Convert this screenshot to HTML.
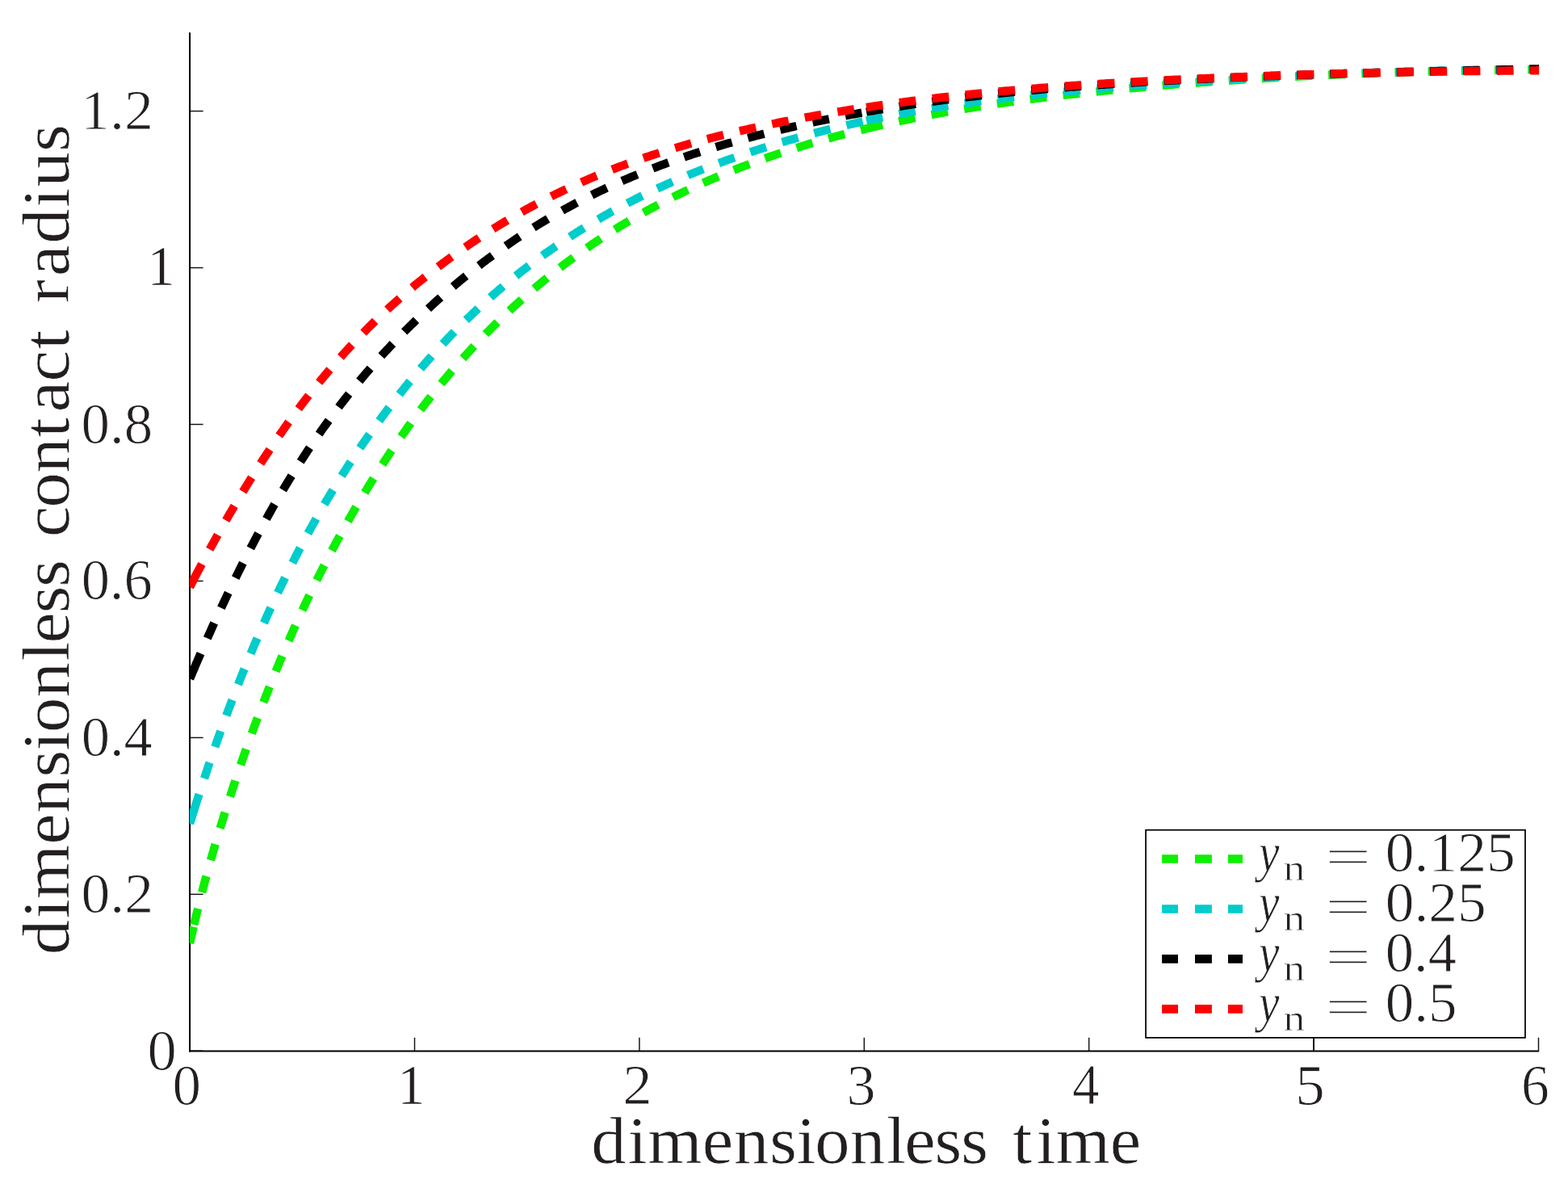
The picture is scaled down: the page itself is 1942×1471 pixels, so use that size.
<!DOCTYPE html>
<html lang="en"><head><meta charset="utf-8"><title>dimensionless contact radius vs dimensionless time</title>
<style>
html,body{margin:0;padding:0;background:#fff;}
body{width:1942px;height:1471px;overflow:hidden;}
svg{display:block;font-family:'Liberation Serif', serif;}
text{fill:#231f20;}
</style></head><body>
<svg width="1942" height="1471" viewBox="0 0 1942 1471">
<rect width="1942" height="1471" fill="#fff"/>
<defs><clipPath id="ax"><rect x="234.85" y="40.6" width="1671.20" height="1260.70"/></clipPath></defs>
<g stroke="#111" stroke-width="1.45" fill="none">
<line x1="235.10" y1="1301.3" x2="235.10" y2="1284.8"/>
<line x1="513.50" y1="1301.3" x2="513.50" y2="1284.8"/>
<line x1="791.90" y1="1301.3" x2="791.90" y2="1284.8"/>
<line x1="1070.30" y1="1301.3" x2="1070.30" y2="1284.8"/>
<line x1="1348.70" y1="1301.3" x2="1348.70" y2="1284.8"/>
<line x1="1627.10" y1="1301.3" x2="1627.10" y2="1284.8"/>
<line x1="1905.50" y1="1301.3" x2="1905.50" y2="1284.8"/>
<line x1="235.1" y1="1301.30" x2="251.6" y2="1301.30"/>
<line x1="235.1" y1="1107.35" x2="251.6" y2="1107.35"/>
<line x1="235.1" y1="913.39" x2="251.6" y2="913.39"/>
<line x1="235.1" y1="719.44" x2="251.6" y2="719.44"/>
<line x1="235.1" y1="525.48" x2="251.6" y2="525.48"/>
<line x1="235.1" y1="331.53" x2="251.6" y2="331.53"/>
<line x1="235.1" y1="137.58" x2="251.6" y2="137.58"/>
</g>
<g stroke="#000" fill="none"><line x1="235.05" y1="40.3" x2="235.05" y2="1302.4" stroke-width="2.05"/><line x1="234.05" y1="1301.45" x2="1906.1" y2="1301.45" stroke-width="1.9"/></g>
<g clip-path="url(#ax)" fill="none" stroke-width="10.4" stroke-linejoin="round">
<path d="M235.10 1167.91 L235.88 1164.41 L236.66 1160.94 L237.44 1157.49 L238.21 1154.08 L238.99 1150.69 L239.77 1147.33 L240.55 1144.00" stroke="#0df000" stroke-dasharray="20.73 20.52"/>
<path d="M240.30 1145.07 L242.81 1134.48 L245.32 1124.17 L247.83 1114.11 L250.33 1104.29 L252.84 1094.69 L255.35 1085.31 L257.86 1076.13 L260.37 1067.15 L262.88 1058.33 L265.39 1049.68 L267.90 1041.17 L270.40 1032.80 L272.91 1024.56 L275.42 1016.42 L277.93 1008.38 L280.44 1000.43 L282.95 992.57 L285.46 984.81 L287.97 977.13 L290.47 969.54 L292.98 962.03 L295.49 954.61 L298.00 947.27 L300.51 940.00 L303.02 932.82 L305.53 925.72 L308.04 918.69 L310.54 911.74 L313.05 904.85 L315.56 898.04 L318.07 891.30 L320.58 884.63 L323.09 878.02 L325.60 871.48 L328.11 865.00 L330.61 858.58 L333.12 852.23 L335.63 845.93 L338.14 839.69 L340.65 833.51 L343.16 827.39 L345.67 821.32 L348.18 815.32 L350.68 809.37 L353.19 803.47 L355.70 797.63 L358.21 791.85 L360.72 786.12 L363.23 780.44 L365.74 774.81 L368.25 769.24 L370.75 763.72 L373.26 758.25 L375.77 752.83 L378.28 747.46 L380.79 742.14 L383.30 736.87 L385.81 731.65 L388.32 726.48 L390.82 721.35 L393.33 716.27 L395.84 711.24 L398.35 706.25 L400.86 701.31 L403.37 696.41 L405.88 691.56 L408.39 686.75 L410.89 681.98 L413.40 677.25 L415.91 672.57 L418.42 667.92 L420.93 663.32 L423.44 658.76 L425.95 654.24 L428.46 649.75 L430.96 645.31 L433.47 640.90 L435.98 636.53 L438.49 632.19 L441.00 627.89 L443.51 623.63 L446.02 619.40 L448.53 615.21 L451.03 611.05 L453.54 606.92 L456.05 602.83 L458.56 598.76 L461.07 594.73 L463.58 590.73 L466.09 586.77 L468.59 582.83 L471.10 578.92 L473.61 575.05 L476.12 571.20 L478.63 567.39 L481.14 563.61 L483.65 559.85 L486.16 556.13 L488.66 552.43 L491.17 548.77 L493.68 545.13 L496.19 541.53 L498.70 537.95 L501.21 534.40 L503.72 530.88 L506.23 527.38 L508.73 523.92 L511.24 520.48 L513.75 517.07 L516.26 513.69 L518.77 510.33 L521.28 507.00 L523.79 503.70 L526.30 500.42 L528.80 497.17 L531.31 493.95 L533.82 490.75 L536.33 487.58 L538.84 484.43 L541.35 481.31 L543.86 478.21 L546.37 475.14 L548.87 472.10 L551.38 469.07 L553.89 466.08 L556.40 463.10 L558.91 460.15 L561.42 457.23 L563.93 454.32 L566.44 451.44 L568.94 448.59 L571.45 445.75 L573.96 442.94 L576.47 440.15 L578.98 437.38 L581.49 434.64 L584.00 431.92 L586.51 429.22 L589.01 426.54 L591.52 423.88 L594.03 421.24 L596.54 418.62 L599.05 416.03 L601.56 413.45 L604.07 410.89 L606.58 408.36 L609.08 405.84 L611.59 403.35 L614.10 400.87 L616.61 398.41 L619.12 395.97 L621.63 393.55 L624.14 391.15 L626.65 388.77 L629.15 386.40 L631.66 384.06 L634.17 381.73 L636.68 379.42 L639.19 377.12 L641.70 374.85 L644.21 372.59 L646.72 370.34 L649.22 368.12 L651.73 365.91 L654.24 363.71 L656.75 361.54 L659.26 359.38 L661.77 357.23 L664.28 355.11 L666.78 353.00 L669.29 350.90 L671.80 348.82 L674.31 346.76 L676.82 344.71 L679.33 342.68 L681.84 340.67 L684.35 338.67 L686.85 336.68 L689.36 334.71 L691.87 332.76 L694.38 330.82 L696.89 328.90 L699.40 326.99 L701.91 325.09 L704.42 323.21 L706.92 321.35 L709.43 319.50 L711.94 317.66 L714.45 315.84 L716.96 314.04 L719.47 312.24 L721.98 310.46 L724.49 308.70 L726.99 306.95 L729.50 305.21 L732.01 303.49 L734.52 301.78 L737.03 300.08 L739.54 298.40 L742.05 296.73 L744.56 295.07 L747.06 293.43 L749.57 291.80 L752.08 290.18 L754.59 288.58 L757.10 286.98 L759.61 285.41 L762.12 283.84 L764.63 282.28 L767.13 280.74 L769.64 279.21 L772.15 277.70 L774.66 276.19 L777.17 274.70 L779.68 273.21 L782.19 271.74 L784.70 270.29 L787.20 268.84 L789.71 267.40 L792.22 265.98 L794.73 264.57 L797.24 263.17 L799.75 261.78 L802.26 260.40 L804.77 259.03 L807.27 257.67 L809.78 256.32 L812.29 254.99 L814.80 253.66 L817.31 252.34 L819.82 251.04 L822.33 249.74 L824.84 248.46 L827.34 247.18 L829.85 245.92 L832.36 244.66 L834.87 243.42 L837.38 242.18 L839.89 240.96 L842.40 239.74 L844.91 238.53 L847.41 237.33 L849.92 236.14 L852.43 234.96 L854.94 233.79 L857.45 232.63 L859.96 231.48 L862.47 230.33 L864.98 229.19 L867.48 228.07 L869.99 226.95 L872.50 225.84 L875.01 224.73 L877.52 223.64 L880.03 222.55 L882.54 221.47 L885.04 220.40 L887.55 219.34 L890.06 218.28 L892.57 217.23 L895.08 216.19 L897.59 215.16 L900.10 214.13 L902.61 213.12 L905.11 212.11 L907.62 211.10 L910.13 210.11 L912.64 209.12 L915.15 208.14 L917.66 207.17 L920.17 206.20 L922.68 205.24 L925.18 204.29 L927.69 203.34 L930.20 202.41 L932.71 201.48 L935.22 200.55 L937.73 199.64 L940.24 198.73 L942.75 197.82 L945.25 196.93 L947.76 196.04 L950.27 195.15 L952.78 194.28 L955.29 193.41 L957.80 192.55 L960.31 191.69 L962.82 190.84 L965.32 190.00 L967.83 189.16 L970.34 188.33 L972.85 187.50 L975.36 186.69 L977.87 185.88 L980.38 185.07 L982.89 184.27 L985.39 183.48 L987.90 182.69 L990.41 181.91 L992.92 181.13 L995.43 180.37 L997.94 179.60 L1000.45 178.84 L1002.96 178.09 L1005.46 177.35 L1007.97 176.61 L1010.48 175.87 L1012.99 175.14 L1015.50 174.42 L1018.01 173.70 L1020.52 172.99 L1023.03 172.28 L1025.53 171.58 L1028.04 170.89 L1030.55 170.20 L1033.06 169.51 L1035.57 168.83 L1038.08 168.16 L1040.59 167.49 L1043.10 166.82 L1045.60 166.16 L1048.11 165.51 L1050.62 164.86 L1053.13 164.22 L1055.64 163.58 L1058.15 162.94 L1060.66 162.31 L1063.17 161.69 L1065.67 161.07 L1068.18 160.45 L1070.69 159.84 L1073.20 159.23" stroke="#0df000" stroke-dasharray="20.73 20.52"/>
<path d="M1073.00 159.28 L1075.51 158.68 L1078.02 158.08 L1080.53 157.49 L1083.04 156.90 L1085.55 156.32 L1088.06 155.74 L1090.57 155.16 L1093.07 154.59 L1095.58 154.02 L1098.09 153.46 L1100.60 152.90 L1103.11 152.35 L1105.62 151.80 L1108.13 151.25 L1110.64 150.71 L1113.15 150.17 L1115.66 149.64 L1118.17 149.11 L1120.68 148.58 L1123.19 148.06 L1125.70 147.54 L1128.20 147.03 L1130.71 146.52 L1133.22 146.02 L1135.73 145.51 L1138.24 145.02 L1140.75 144.52 L1143.26 144.03 L1145.77 143.55 L1148.28 143.06 L1150.79 142.58 L1153.30 142.11 L1155.81 141.64 L1158.32 141.17 L1160.83 140.71 L1163.34 140.25 L1165.84 139.79 L1168.35 139.34 L1170.86 138.89 L1173.37 138.44 L1175.88 138.00 L1178.39 137.56 L1180.90 137.12 L1183.41 136.69 L1185.92 136.26 L1188.43 135.83 L1190.94 135.41 L1193.45 134.99 L1195.96 134.58 L1198.47 134.16 L1200.97 133.75 L1203.48 133.35 L1205.99 132.94 L1208.50 132.54 L1211.01 132.15 L1213.52 131.75 L1216.03 131.36 L1218.54 130.97 L1221.05 130.59 L1223.56 130.21 L1226.07 129.83 L1228.58 129.45 L1231.09 129.08 L1233.60 128.71 L1236.11 128.34 L1238.61 127.98 L1241.12 127.62 L1243.63 127.26 L1246.14 126.90 L1248.65 126.55 L1251.16 126.20 L1253.67 125.85 L1256.18 125.51 L1258.69 125.17 L1261.20 124.83 L1263.71 124.49 L1266.22 124.15 L1268.73 123.82 L1271.24 123.49 L1273.74 123.17 L1276.25 122.84 L1278.76 122.52 L1281.27 122.20 L1283.78 121.88 L1286.29 121.57 L1288.80 121.25 L1291.31 120.94 L1293.82 120.64 L1296.33 120.33 L1298.84 120.03 L1301.35 119.72 L1303.86 119.43 L1306.37 119.13 L1308.88 118.83 L1311.38 118.54 L1313.89 118.25 L1316.40 117.96 L1318.91 117.67 L1321.42 117.39 L1323.93 117.11 L1326.44 116.83 L1328.95 116.55 L1331.46 116.27 L1333.97 116.00 L1336.48 115.72 L1338.99 115.45 L1341.50 115.18 L1344.01 114.91 L1346.51 114.65 L1349.02 114.38 L1351.53 114.12 L1354.04 113.86 L1356.55 113.60 L1359.06 113.34 L1361.57 113.09 L1364.08 112.83 L1366.59 112.58 L1369.10 112.33 L1371.61 112.08 L1374.12 111.83 L1376.63 111.58 L1379.14 111.34 L1381.65 111.09 L1384.15 110.85 L1386.66 110.61 L1389.17 110.37 L1391.68 110.13 L1394.19 109.89 L1396.70 109.66 L1399.21 109.42 L1401.72 109.19 L1404.23 108.96 L1406.74 108.73 L1409.25 108.50 L1411.76 108.27 L1414.27 108.05 L1416.78 107.82 L1419.28 107.60 L1421.79 107.38 L1424.30 107.16 L1426.81 106.94 L1429.32 106.73 L1431.83 106.51 L1434.34 106.30 L1436.85 106.08 L1439.36 105.87 L1441.87 105.66 L1444.38 105.45 L1446.89 105.24 L1449.40 105.04 L1451.91 104.83 L1454.42 104.63 L1456.92 104.43 L1459.43 104.23 L1461.94 104.03 L1464.45 103.83 L1466.96 103.63 L1469.47 103.44 L1471.98 103.24 L1474.49 103.05 L1477.00 102.86 L1479.51 102.67 L1482.02 102.48 L1484.53 102.29 L1487.04 102.11 L1489.55 101.92 L1492.05 101.74 L1494.56 101.55 L1497.07 101.37 L1499.58 101.19 L1502.09 101.02 L1504.60 100.84 L1507.11 100.66 L1509.62 100.49 L1512.13 100.31 L1514.64 100.14 L1517.15 99.97 L1519.66 99.80 L1522.17 99.63 L1524.68 99.46 L1527.18 99.30 L1529.69 99.13 L1532.20 98.97 L1534.71 98.81 L1537.22 98.65 L1539.73 98.49 L1542.24 98.33 L1544.75 98.17 L1547.26 98.01 L1549.77 97.86 L1552.28 97.70 L1554.79 97.55 L1557.30 97.40 L1559.81 97.25 L1562.32 97.10 L1564.82 96.95 L1567.33 96.80 L1569.84 96.66 L1572.35 96.51 L1574.86 96.37 L1577.37 96.23 L1579.88 96.09 L1582.39 95.95 L1584.90 95.81 L1587.41 95.67 L1589.92 95.53 L1592.43 95.40 L1594.94 95.26 L1597.45 95.13 L1599.95 95.00 L1602.46 94.86 L1604.97 94.73 L1607.48 94.61 L1609.99 94.48 L1612.50 94.35 L1615.01 94.23 L1617.52 94.10 L1620.03 93.98 L1622.54 93.85 L1625.05 93.73 L1627.56 93.61 L1630.07 93.49 L1632.58 93.38 L1635.09 93.26 L1637.59 93.14 L1640.10 93.03 L1642.61 92.91 L1645.12 92.80 L1647.63 92.69 L1650.14 92.58 L1652.65 92.47 L1655.16 92.36 L1657.67 92.25 L1660.18 92.14 L1662.69 92.04 L1665.20 91.93 L1667.71 91.83 L1670.22 91.73 L1672.72 91.63 L1675.23 91.52 L1677.74 91.42 L1680.25 91.33 L1682.76 91.23 L1685.27 91.13 L1687.78 91.03 L1690.29 90.94 L1692.80 90.85 L1695.31 90.75 L1697.82 90.66 L1700.33 90.57 L1702.84 90.48 L1705.35 90.39 L1707.86 90.30 L1710.36 90.21 L1712.87 90.13 L1715.38 90.04 L1717.89 89.96 L1720.40 89.87 L1722.91 89.79 L1725.42 89.71 L1727.93 89.63 L1730.44 89.55 L1732.95 89.47 L1735.46 89.39 L1737.97 89.31 L1740.48 89.24 L1742.99 89.16 L1745.49 89.09 L1748.00 89.01 L1750.51 88.94 L1753.02 88.87 L1755.53 88.79 L1758.04 88.72 L1760.55 88.65 L1763.06 88.59 L1765.57 88.52 L1768.08 88.45 L1770.59 88.38 L1773.10 88.32 L1775.61 88.25 L1778.12 88.19 L1780.63 88.13 L1783.13 88.07 L1785.64 88.00 L1788.15 87.94 L1790.66 87.88 L1793.17 87.82 L1795.68 87.77 L1798.19 87.71 L1800.70 87.65 L1803.21 87.60 L1805.72 87.54 L1808.23 87.49 L1810.74 87.43 L1813.25 87.38 L1815.76 87.33 L1818.26 87.28 L1820.77 87.23 L1823.28 87.18 L1825.79 87.13 L1828.30 87.08 L1830.81 87.03 L1833.32 86.99 L1835.83 86.94 L1838.34 86.89 L1840.85 86.85 L1843.36 86.81 L1845.87 86.76 L1848.38 86.72 L1850.89 86.68 L1853.40 86.64 L1855.90 86.60 L1858.41 86.56 L1860.92 86.52 L1863.43 86.48 L1865.94 86.44 L1868.45 86.41 L1870.96 86.37 L1873.47 86.33 L1875.98 86.30 L1878.49 86.26 L1881.00 86.23 L1883.51 86.20 L1886.02 86.17 L1888.53 86.13 L1891.03 86.10 L1893.54 86.07 L1896.05 86.04 L1898.56 86.01 L1901.07 85.98 L1903.58 85.96 L1906.09 85.93 L1908.60 85.90" stroke="#0df000" stroke-dasharray="20.7 20.5"/>
<path d="M235.10 1019.80 L235.88 1017.29 L236.66 1014.78 L237.44 1012.28 L238.21 1009.78 L238.99 1007.29 L239.77 1004.82 L240.55 1002.35" stroke="#00cccc" stroke-dasharray="20.73 20.52"/>
<path d="M240.30 1003.14 L242.81 995.22 L245.32 987.38 L247.83 979.63 L250.33 971.95 L252.84 964.35 L255.35 956.82 L257.86 949.37 L260.37 942.00 L262.88 934.70 L265.39 927.47 L267.90 920.32 L270.40 913.24 L272.91 906.23 L275.42 899.29 L277.93 892.42 L280.44 885.62 L282.95 878.89 L285.46 872.23 L287.97 865.63 L290.47 859.10 L292.98 852.64 L295.49 846.24 L298.00 839.90 L300.51 833.63 L303.02 827.41 L305.53 821.26 L308.04 815.17 L310.54 809.14 L313.05 803.17 L315.56 797.26 L318.07 791.41 L320.58 785.61 L323.09 779.87 L325.60 774.18 L328.11 768.55 L330.61 762.97 L333.12 757.44 L335.63 751.97 L338.14 746.55 L340.65 741.18 L343.16 735.86 L345.67 730.59 L348.18 725.36 L350.68 720.19 L353.19 715.06 L355.70 709.98 L358.21 704.94 L360.72 699.95 L363.23 695.01 L365.74 690.11 L368.25 685.25 L370.75 680.44 L373.26 675.67 L375.77 670.95 L378.28 666.27 L380.79 661.63 L383.30 657.03 L385.81 652.47 L388.32 647.96 L390.82 643.48 L393.33 639.05 L395.84 634.66 L398.35 630.30 L400.86 625.98 L403.37 621.70 L405.88 617.46 L408.39 613.26 L410.89 609.09 L413.40 604.96 L415.91 600.87 L418.42 596.81 L420.93 592.79 L423.44 588.80 L425.95 584.85 L428.46 580.93 L430.96 577.04 L433.47 573.19 L435.98 569.37 L438.49 565.58 L441.00 561.82 L443.51 558.10 L446.02 554.40 L448.53 550.74 L451.03 547.10 L453.54 543.50 L456.05 539.92 L458.56 536.37 L461.07 532.86 L463.58 529.36 L466.09 525.90 L468.59 522.46 L471.10 519.05 L473.61 515.67 L476.12 512.31 L478.63 508.97 L481.14 505.66 L483.65 502.38 L486.16 499.12 L488.66 495.88 L491.17 492.67 L493.68 489.49 L496.19 486.32 L498.70 483.18 L501.21 480.07 L503.72 476.98 L506.23 473.91 L508.73 470.87 L511.24 467.85 L513.75 464.85 L516.26 461.88 L518.77 458.93 L521.28 456.00 L523.79 453.09 L526.30 450.21 L528.80 447.35 L531.31 444.51 L533.82 441.69 L536.33 438.90 L538.84 436.12 L541.35 433.37 L543.86 430.64 L546.37 427.93 L548.87 425.24 L551.38 422.58 L553.89 419.93 L556.40 417.31 L558.91 414.70 L561.42 412.12 L563.93 409.56 L566.44 407.01 L568.94 404.49 L571.45 401.99 L573.96 399.50 L576.47 397.04 L578.98 394.59 L581.49 392.17 L584.00 389.76 L586.51 387.38 L589.01 385.01 L591.52 382.66 L594.03 380.33 L596.54 378.02 L599.05 375.73 L601.56 373.45 L604.07 371.19 L606.58 368.95 L609.08 366.73 L611.59 364.53 L614.10 362.34 L616.61 360.18 L619.12 358.02 L621.63 355.89 L624.14 353.77 L626.65 351.67 L629.15 349.59 L631.66 347.52 L634.17 345.47 L636.68 343.44 L639.19 341.42 L641.70 339.41 L644.21 337.43 L646.72 335.46 L649.22 333.50 L651.73 331.56 L654.24 329.64 L656.75 327.73 L659.26 325.83 L661.77 323.95 L664.28 322.09 L666.78 320.24 L669.29 318.40 L671.80 316.58 L674.31 314.77 L676.82 312.98 L679.33 311.20 L681.84 309.43 L684.35 307.68 L686.85 305.94 L689.36 304.22 L691.87 302.51 L694.38 300.81 L696.89 299.12 L699.40 297.45 L701.91 295.79 L704.42 294.14 L706.92 292.51 L709.43 290.89 L711.94 289.28 L714.45 287.68 L716.96 286.10 L719.47 284.53 L721.98 282.97 L724.49 281.43 L726.99 279.89 L729.50 278.37 L732.01 276.86 L734.52 275.36 L737.03 273.88 L739.54 272.40 L742.05 270.94 L744.56 269.49 L747.06 268.05 L749.57 266.62 L752.08 265.20 L754.59 263.80 L757.10 262.40 L759.61 261.02 L762.12 259.65 L764.63 258.29 L767.13 256.93 L769.64 255.59 L772.15 254.26 L774.66 252.95 L777.17 251.64 L779.68 250.34 L782.19 249.05 L784.70 247.77 L787.20 246.50 L789.71 245.25 L792.22 244.00 L794.73 242.76 L797.24 241.53 L799.75 240.31 L802.26 239.10 L804.77 237.90 L807.27 236.71 L809.78 235.53 L812.29 234.36 L814.80 233.20 L817.31 232.04 L819.82 230.90 L822.33 229.76 L824.84 228.63 L827.34 227.52 L829.85 226.41 L832.36 225.30 L834.87 224.21 L837.38 223.13 L839.89 222.05 L842.40 220.98 L844.91 219.92 L847.41 218.87 L849.92 217.83 L852.43 216.79 L854.94 215.76 L857.45 214.74 L859.96 213.73 L862.47 212.72 L864.98 211.72 L867.48 210.73 L869.99 209.75 L872.50 208.77 L875.01 207.80 L877.52 206.84 L880.03 205.88 L882.54 204.93 L885.04 203.99 L887.55 203.06 L890.06 202.13 L892.57 201.20 L895.08 200.29 L897.59 199.38 L900.10 198.47 L902.61 197.58 L905.11 196.68 L907.62 195.80 L910.13 194.92 L912.64 194.05 L915.15 193.18 L917.66 192.32 L920.17 191.46 L922.68 190.61 L925.18 189.77 L927.69 188.93 L930.20 188.10 L932.71 187.27 L935.22 186.45 L937.73 185.63 L940.24 184.83 L942.75 184.02 L945.25 183.22 L947.76 182.43 L950.27 181.65 L952.78 180.87 L955.29 180.09 L957.80 179.32 L960.31 178.56 L962.82 177.80 L965.32 177.05 L967.83 176.30 L970.34 175.56 L972.85 174.82 L975.36 174.09 L977.87 173.36 L980.38 172.64 L982.89 171.93 L985.39 171.22 L987.90 170.51 L990.41 169.81 L992.92 169.12 L995.43 168.43 L997.94 167.74 L1000.45 167.07 L1002.96 166.39 L1005.46 165.72 L1007.97 165.06 L1010.48 164.40 L1012.99 163.75 L1015.50 163.10 L1018.01 162.45 L1020.52 161.82 L1023.03 161.18 L1025.53 160.55 L1028.04 159.93 L1030.55 159.31 L1033.06 158.69 L1035.57 158.08 L1038.08 157.48 L1040.59 156.88 L1043.10 156.28 L1045.60 155.69 L1048.11 155.10 L1050.62 154.52 L1053.13 153.95 L1055.64 153.37 L1058.15 152.80 L1060.66 152.24 L1063.17 151.68 L1065.67 151.13 L1068.18 150.58 L1070.69 150.03 L1073.20 149.49" stroke="#00cccc" stroke-dasharray="20.73 20.52"/>
<path d="M1073.00 149.53 L1075.51 148.99 L1078.02 148.46 L1080.53 147.93 L1083.04 147.41 L1085.55 146.89 L1088.06 146.37 L1090.57 145.86 L1093.07 145.35 L1095.58 144.85 L1098.09 144.35 L1100.60 143.85 L1103.11 143.36 L1105.62 142.87 L1108.13 142.39 L1110.64 141.91 L1113.15 141.43 L1115.66 140.96 L1118.17 140.49 L1120.68 140.03 L1123.19 139.57 L1125.70 139.12 L1128.20 138.66 L1130.71 138.21 L1133.22 137.77 L1135.73 137.33 L1138.24 136.89 L1140.75 136.46 L1143.26 136.03 L1145.77 135.60 L1148.28 135.18 L1150.79 134.76 L1153.30 134.34 L1155.81 133.93 L1158.32 133.52 L1160.83 133.12 L1163.34 132.72 L1165.84 132.32 L1168.35 131.93 L1170.86 131.53 L1173.37 131.15 L1175.88 130.76 L1178.39 130.38 L1180.90 130.00 L1183.41 129.63 L1185.92 129.26 L1188.43 128.89 L1190.94 128.52 L1193.45 128.16 L1195.96 127.80 L1198.47 127.44 L1200.97 127.09 L1203.48 126.74 L1205.99 126.39 L1208.50 126.05 L1211.01 125.71 L1213.52 125.37 L1216.03 125.04 L1218.54 124.70 L1221.05 124.38 L1223.56 124.05 L1226.07 123.73 L1228.58 123.40 L1231.09 123.09 L1233.60 122.77 L1236.11 122.46 L1238.61 122.15 L1241.12 121.84 L1243.63 121.54 L1246.14 121.23 L1248.65 120.93 L1251.16 120.64 L1253.67 120.34 L1256.18 120.05 L1258.69 119.76 L1261.20 119.47 L1263.71 119.19 L1266.22 118.91 L1268.73 118.63 L1271.24 118.35 L1273.74 118.07 L1276.25 117.80 L1278.76 117.53 L1281.27 117.26 L1283.78 117.00 L1286.29 116.73 L1288.80 116.47 L1291.31 116.21 L1293.82 115.95 L1296.33 115.70 L1298.84 115.44 L1301.35 115.19 L1303.86 114.94 L1306.37 114.70 L1308.88 114.45 L1311.38 114.21 L1313.89 113.96 L1316.40 113.72 L1318.91 113.49 L1321.42 113.25 L1323.93 113.02 L1326.44 112.78 L1328.95 112.55 L1331.46 112.32 L1333.97 112.10 L1336.48 111.87 L1338.99 111.65 L1341.50 111.42 L1344.01 111.20 L1346.51 110.98 L1349.02 110.77 L1351.53 110.55 L1354.04 110.33 L1356.55 110.12 L1359.06 109.91 L1361.57 109.70 L1364.08 109.49 L1366.59 109.28 L1369.10 109.08 L1371.61 108.87 L1374.12 108.67 L1376.63 108.46 L1379.14 108.26 L1381.65 108.06 L1384.15 107.86 L1386.66 107.67 L1389.17 107.47 L1391.68 107.27 L1394.19 107.08 L1396.70 106.89 L1399.21 106.69 L1401.72 106.50 L1404.23 106.31 L1406.74 106.12 L1409.25 105.93 L1411.76 105.75 L1414.27 105.56 L1416.78 105.37 L1419.28 105.19 L1421.79 105.00 L1424.30 104.82 L1426.81 104.64 L1429.32 104.46 L1431.83 104.28 L1434.34 104.10 L1436.85 103.92 L1439.36 103.74 L1441.87 103.56 L1444.38 103.39 L1446.89 103.21 L1449.40 103.04 L1451.91 102.86 L1454.42 102.69 L1456.92 102.52 L1459.43 102.35 L1461.94 102.18 L1464.45 102.01 L1466.96 101.84 L1469.47 101.67 L1471.98 101.51 L1474.49 101.34 L1477.00 101.18 L1479.51 101.01 L1482.02 100.85 L1484.53 100.69 L1487.04 100.53 L1489.55 100.37 L1492.05 100.21 L1494.56 100.05 L1497.07 99.89 L1499.58 99.73 L1502.09 99.58 L1504.60 99.42 L1507.11 99.27 L1509.62 99.12 L1512.13 98.96 L1514.64 98.81 L1517.15 98.66 L1519.66 98.51 L1522.17 98.36 L1524.68 98.22 L1527.18 98.07 L1529.69 97.92 L1532.20 97.78 L1534.71 97.63 L1537.22 97.49 L1539.73 97.35 L1542.24 97.21 L1544.75 97.06 L1547.26 96.92 L1549.77 96.79 L1552.28 96.65 L1554.79 96.51 L1557.30 96.37 L1559.81 96.24 L1562.32 96.10 L1564.82 95.97 L1567.33 95.84 L1569.84 95.70 L1572.35 95.57 L1574.86 95.44 L1577.37 95.31 L1579.88 95.19 L1582.39 95.06 L1584.90 94.93 L1587.41 94.81 L1589.92 94.68 L1592.43 94.56 L1594.94 94.43 L1597.45 94.31 L1599.95 94.19 L1602.46 94.07 L1604.97 93.95 L1607.48 93.83 L1609.99 93.71 L1612.50 93.60 L1615.01 93.48 L1617.52 93.37 L1620.03 93.25 L1622.54 93.14 L1625.05 93.03 L1627.56 92.91 L1630.07 92.80 L1632.58 92.69 L1635.09 92.59 L1637.59 92.48 L1640.10 92.37 L1642.61 92.26 L1645.12 92.16 L1647.63 92.05 L1650.14 91.95 L1652.65 91.85 L1655.16 91.75 L1657.67 91.65 L1660.18 91.55 L1662.69 91.45 L1665.20 91.35 L1667.71 91.25 L1670.22 91.15 L1672.72 91.06 L1675.23 90.96 L1677.74 90.87 L1680.25 90.78 L1682.76 90.69 L1685.27 90.60 L1687.78 90.50 L1690.29 90.42 L1692.80 90.33 L1695.31 90.24 L1697.82 90.15 L1700.33 90.07 L1702.84 89.98 L1705.35 89.90 L1707.86 89.82 L1710.36 89.73 L1712.87 89.65 L1715.38 89.57 L1717.89 89.49 L1720.40 89.41 L1722.91 89.34 L1725.42 89.26 L1727.93 89.18 L1730.44 89.11 L1732.95 89.04 L1735.46 88.96 L1737.97 88.89 L1740.48 88.82 L1742.99 88.75 L1745.49 88.68 L1748.00 88.61 L1750.51 88.54 L1753.02 88.47 L1755.53 88.41 L1758.04 88.34 L1760.55 88.28 L1763.06 88.22 L1765.57 88.15 L1768.08 88.09 L1770.59 88.03 L1773.10 87.97 L1775.61 87.91 L1778.12 87.86 L1780.63 87.80 L1783.13 87.74 L1785.64 87.69 L1788.15 87.63 L1790.66 87.58 L1793.17 87.53 L1795.68 87.48 L1798.19 87.42 L1800.70 87.37 L1803.21 87.33 L1805.72 87.28 L1808.23 87.23 L1810.74 87.18 L1813.25 87.14 L1815.76 87.09 L1818.26 87.05 L1820.77 87.01 L1823.28 86.97 L1825.79 86.93 L1828.30 86.89 L1830.81 86.85 L1833.32 86.81 L1835.83 86.77 L1838.34 86.73 L1840.85 86.70 L1843.36 86.66 L1845.87 86.63 L1848.38 86.60 L1850.89 86.57 L1853.40 86.54 L1855.90 86.51 L1858.41 86.48 L1860.92 86.45 L1863.43 86.42 L1865.94 86.39 L1868.45 86.37 L1870.96 86.34 L1873.47 86.32 L1875.98 86.30 L1878.49 86.28 L1881.00 86.25 L1883.51 86.23 L1886.02 86.21 L1888.53 86.20 L1891.03 86.18 L1893.54 86.16 L1896.05 86.15 L1898.56 86.13 L1901.07 86.12 L1903.58 86.11 L1906.09 86.09 L1908.60 86.08" stroke="#00cccc" stroke-dasharray="20.7 20.5"/>
<path d="M235.10 840.47 L235.88 838.62 L236.66 836.77 L237.44 834.93 L238.21 833.09 L238.99 831.25 L239.77 829.42 L240.55 827.59" stroke="#000000" stroke-dasharray="20.73 20.52"/>
<path d="M240.30 828.17 L242.81 822.30 L245.32 816.47 L247.83 810.67 L250.33 804.92 L252.84 799.20 L255.35 793.52 L257.86 787.88 L260.37 782.28 L262.88 776.72 L265.39 771.20 L267.90 765.72 L270.40 760.28 L272.91 754.87 L275.42 749.50 L277.93 744.18 L280.44 738.89 L282.95 733.64 L285.46 728.42 L287.97 723.25 L290.47 718.12 L292.98 713.02 L295.49 707.96 L298.00 702.94 L300.51 697.96 L303.02 693.02 L305.53 688.11 L308.04 683.24 L310.54 678.41 L313.05 673.62 L315.56 668.87 L318.07 664.16 L320.58 659.48 L323.09 654.84 L325.60 650.24 L328.11 645.67 L330.61 641.15 L333.12 636.66 L335.63 632.21 L338.14 627.80 L340.65 623.42 L343.16 619.09 L345.67 614.79 L348.18 610.52 L350.68 606.30 L353.19 602.11 L355.70 597.96 L358.21 593.85 L360.72 589.77 L363.23 585.73 L365.74 581.73 L368.25 577.77 L370.75 573.84 L373.26 569.94 L375.77 566.08 L378.28 562.25 L380.79 558.46 L383.30 554.71 L385.81 550.98 L388.32 547.29 L390.82 543.64 L393.33 540.01 L395.84 536.42 L398.35 532.86 L400.86 529.33 L403.37 525.84 L405.88 522.37 L408.39 518.94 L410.89 515.53 L413.40 512.16 L415.91 508.81 L418.42 505.50 L420.93 502.21 L423.44 498.95 L425.95 495.72 L428.46 492.52 L430.96 489.35 L433.47 486.20 L435.98 483.08 L438.49 479.99 L441.00 476.93 L443.51 473.89 L446.02 470.87 L448.53 467.88 L451.03 464.92 L453.54 461.98 L456.05 459.07 L458.56 456.18 L461.07 453.31 L463.58 450.47 L466.09 447.65 L468.59 444.85 L471.10 442.07 L473.61 439.32 L476.12 436.59 L478.63 433.88 L481.14 431.19 L483.65 428.52 L486.16 425.87 L488.66 423.25 L491.17 420.64 L493.68 418.05 L496.19 415.48 L498.70 412.93 L501.21 410.39 L503.72 407.88 L506.23 405.38 L508.73 402.90 L511.24 400.44 L513.75 397.99 L516.26 395.57 L518.77 393.15 L521.28 390.76 L523.79 388.38 L526.30 386.02 L528.80 383.68 L531.31 381.35 L533.82 379.04 L536.33 376.74 L538.84 374.46 L541.35 372.20 L543.86 369.95 L546.37 367.72 L548.87 365.51 L551.38 363.31 L553.89 361.13 L556.40 358.96 L558.91 356.81 L561.42 354.67 L563.93 352.55 L566.44 350.45 L568.94 348.36 L571.45 346.29 L573.96 344.23 L576.47 342.18 L578.98 340.16 L581.49 338.14 L584.00 336.15 L586.51 334.16 L589.01 332.19 L591.52 330.24 L594.03 328.30 L596.54 326.38 L599.05 324.47 L601.56 322.57 L604.07 320.69 L606.58 318.82 L609.08 316.97 L611.59 315.13 L614.10 313.30 L616.61 311.49 L619.12 309.70 L621.63 307.91 L624.14 306.14 L626.65 304.39 L629.15 302.65 L631.66 300.92 L634.17 299.20 L636.68 297.50 L639.19 295.81 L641.70 294.14 L644.21 292.47 L646.72 290.83 L649.22 289.19 L651.73 287.57 L654.24 285.96 L656.75 284.36 L659.26 282.77 L661.77 281.20 L664.28 279.64 L666.78 278.09 L669.29 276.56 L671.80 275.03 L674.31 273.52 L676.82 272.03 L679.33 270.54 L681.84 269.06 L684.35 267.60 L686.85 266.15 L689.36 264.71 L691.87 263.28 L694.38 261.87 L696.89 260.47 L699.40 259.07 L701.91 257.69 L704.42 256.32 L706.92 254.96 L709.43 253.62 L711.94 252.28 L714.45 250.95 L716.96 249.64 L719.47 248.33 L721.98 247.04 L724.49 245.76 L726.99 244.49 L729.50 243.23 L732.01 241.98 L734.52 240.74 L737.03 239.51 L739.54 238.29 L742.05 237.08 L744.56 235.88 L747.06 234.69 L749.57 233.51 L752.08 232.34 L754.59 231.18 L757.10 230.03 L759.61 228.89 L762.12 227.76 L764.63 226.64 L767.13 225.53 L769.64 224.42 L772.15 223.33 L774.66 222.25 L777.17 221.17 L779.68 220.10 L782.19 219.05 L784.70 218.00 L787.20 216.96 L789.71 215.93 L792.22 214.91 L794.73 213.89 L797.24 212.89 L799.75 211.89 L802.26 210.90 L804.77 209.92 L807.27 208.95 L809.78 207.99 L812.29 207.03 L814.80 206.09 L817.31 205.15 L819.82 204.21 L822.33 203.29 L824.84 202.37 L827.34 201.47 L829.85 200.56 L832.36 199.67 L834.87 198.78 L837.38 197.90 L839.89 197.03 L842.40 196.17 L844.91 195.31 L847.41 194.46 L849.92 193.62 L852.43 192.78 L854.94 191.95 L857.45 191.12 L859.96 190.31 L862.47 189.50 L864.98 188.69 L867.48 187.89 L869.99 187.10 L872.50 186.32 L875.01 185.54 L877.52 184.77 L880.03 184.00 L882.54 183.24 L885.04 182.48 L887.55 181.73 L890.06 180.99 L892.57 180.25 L895.08 179.52 L897.59 178.79 L900.10 178.07 L902.61 177.35 L905.11 176.64 L907.62 175.94 L910.13 175.24 L912.64 174.54 L915.15 173.85 L917.66 173.16 L920.17 172.48 L922.68 171.81 L925.18 171.13 L927.69 170.47 L930.20 169.80 L932.71 169.14 L935.22 168.49 L937.73 167.84 L940.24 167.19 L942.75 166.55 L945.25 165.92 L947.76 165.28 L950.27 164.65 L952.78 164.03 L955.29 163.41 L957.80 162.79 L960.31 162.18 L962.82 161.57 L965.32 160.97 L967.83 160.37 L970.34 159.77 L972.85 159.18 L975.36 158.59 L977.87 158.00 L980.38 157.42 L982.89 156.85 L985.39 156.27 L987.90 155.70 L990.41 155.14 L992.92 154.58 L995.43 154.02 L997.94 153.47 L1000.45 152.92 L1002.96 152.37 L1005.46 151.83 L1007.97 151.29 L1010.48 150.76 L1012.99 150.23 L1015.50 149.70 L1018.01 149.18 L1020.52 148.66 L1023.03 148.14 L1025.53 147.63 L1028.04 147.12 L1030.55 146.61 L1033.06 146.11 L1035.57 145.62 L1038.08 145.12 L1040.59 144.63 L1043.10 144.14 L1045.60 143.66 L1048.11 143.18 L1050.62 142.70 L1053.13 142.23 L1055.64 141.76 L1058.15 141.29 L1060.66 140.83 L1063.17 140.37 L1065.67 139.91 L1068.18 139.46 L1070.69 139.01 L1073.20 138.56" stroke="#000000" stroke-dasharray="20.73 20.52"/>
<path d="M1073.00 138.60 L1075.51 138.16 L1078.02 137.72 L1080.53 137.28 L1083.04 136.85 L1085.55 136.42 L1088.06 135.99 L1090.57 135.56 L1093.07 135.14 L1095.58 134.73 L1098.09 134.31 L1100.60 133.90 L1103.11 133.49 L1105.62 133.09 L1108.13 132.69 L1110.64 132.29 L1113.15 131.89 L1115.66 131.50 L1118.17 131.11 L1120.68 130.72 L1123.19 130.34 L1125.70 129.96 L1128.20 129.58 L1130.71 129.21 L1133.22 128.84 L1135.73 128.47 L1138.24 128.10 L1140.75 127.74 L1143.26 127.38 L1145.77 127.02 L1148.28 126.67 L1150.79 126.31 L1153.30 125.97 L1155.81 125.62 L1158.32 125.28 L1160.83 124.93 L1163.34 124.60 L1165.84 124.26 L1168.35 123.93 L1170.86 123.60 L1173.37 123.27 L1175.88 122.95 L1178.39 122.63 L1180.90 122.31 L1183.41 121.99 L1185.92 121.68 L1188.43 121.36 L1190.94 121.06 L1193.45 120.75 L1195.96 120.45 L1198.47 120.14 L1200.97 119.84 L1203.48 119.55 L1205.99 119.25 L1208.50 118.96 L1211.01 118.67 L1213.52 118.39 L1216.03 118.10 L1218.54 117.82 L1221.05 117.54 L1223.56 117.26 L1226.07 116.99 L1228.58 116.71 L1231.09 116.44 L1233.60 116.18 L1236.11 115.91 L1238.61 115.65 L1241.12 115.38 L1243.63 115.12 L1246.14 114.87 L1248.65 114.61 L1251.16 114.36 L1253.67 114.11 L1256.18 113.86 L1258.69 113.61 L1261.20 113.37 L1263.71 113.13 L1266.22 112.89 L1268.73 112.65 L1271.24 112.41 L1273.74 112.18 L1276.25 111.94 L1278.76 111.71 L1281.27 111.48 L1283.78 111.26 L1286.29 111.03 L1288.80 110.81 L1291.31 110.59 L1293.82 110.37 L1296.33 110.15 L1298.84 109.94 L1301.35 109.72 L1303.86 109.51 L1306.37 109.30 L1308.88 109.09 L1311.38 108.89 L1313.89 108.68 L1316.40 108.48 L1318.91 108.28 L1321.42 108.08 L1323.93 107.88 L1326.44 107.68 L1328.95 107.49 L1331.46 107.29 L1333.97 107.10 L1336.48 106.91 L1338.99 106.72 L1341.50 106.54 L1344.01 106.35 L1346.51 106.17 L1349.02 105.99 L1351.53 105.80 L1354.04 105.62 L1356.55 105.45 L1359.06 105.27 L1361.57 105.09 L1364.08 104.92 L1366.59 104.75 L1369.10 104.58 L1371.61 104.41 L1374.12 104.24 L1376.63 104.07 L1379.14 103.90 L1381.65 103.74 L1384.15 103.58 L1386.66 103.41 L1389.17 103.25 L1391.68 103.09 L1394.19 102.94 L1396.70 102.78 L1399.21 102.62 L1401.72 102.47 L1404.23 102.31 L1406.74 102.16 L1409.25 102.01 L1411.76 101.86 L1414.27 101.71 L1416.78 101.56 L1419.28 101.41 L1421.79 101.26 L1424.30 101.12 L1426.81 100.97 L1429.32 100.83 L1431.83 100.69 L1434.34 100.55 L1436.85 100.41 L1439.36 100.27 L1441.87 100.13 L1444.38 99.99 L1446.89 99.85 L1449.40 99.72 L1451.91 99.58 L1454.42 99.45 L1456.92 99.32 L1459.43 99.19 L1461.94 99.06 L1464.45 98.93 L1466.96 98.80 L1469.47 98.67 L1471.98 98.54 L1474.49 98.42 L1477.00 98.29 L1479.51 98.17 L1482.02 98.04 L1484.53 97.92 L1487.04 97.80 L1489.55 97.68 L1492.05 97.56 L1494.56 97.44 L1497.07 97.32 L1499.58 97.20 L1502.09 97.09 L1504.60 96.97 L1507.11 96.86 L1509.62 96.74 L1512.13 96.63 L1514.64 96.52 L1517.15 96.41 L1519.66 96.30 L1522.17 96.19 L1524.68 96.08 L1527.18 95.97 L1529.69 95.86 L1532.20 95.76 L1534.71 95.65 L1537.22 95.54 L1539.73 95.44 L1542.24 95.34 L1544.75 95.23 L1547.26 95.13 L1549.77 95.03 L1552.28 94.93 L1554.79 94.83 L1557.30 94.73 L1559.81 94.63 L1562.32 94.53 L1564.82 94.44 L1567.33 94.34 L1569.84 94.25 L1572.35 94.15 L1574.86 94.06 L1577.37 93.96 L1579.88 93.87 L1582.39 93.78 L1584.90 93.69 L1587.41 93.59 L1589.92 93.50 L1592.43 93.41 L1594.94 93.33 L1597.45 93.24 L1599.95 93.15 L1602.46 93.06 L1604.97 92.98 L1607.48 92.89 L1609.99 92.80 L1612.50 92.72 L1615.01 92.64 L1617.52 92.55 L1620.03 92.47 L1622.54 92.39 L1625.05 92.30 L1627.56 92.22 L1630.07 92.14 L1632.58 92.06 L1635.09 91.98 L1637.59 91.90 L1640.10 91.83 L1642.61 91.75 L1645.12 91.67 L1647.63 91.59 L1650.14 91.52 L1652.65 91.44 L1655.16 91.36 L1657.67 91.29 L1660.18 91.21 L1662.69 91.14 L1665.20 91.07 L1667.71 90.99 L1670.22 90.92 L1672.72 90.85 L1675.23 90.78 L1677.74 90.71 L1680.25 90.63 L1682.76 90.56 L1685.27 90.49 L1687.78 90.42 L1690.29 90.36 L1692.80 90.29 L1695.31 90.22 L1697.82 90.15 L1700.33 90.08 L1702.84 90.02 L1705.35 89.95 L1707.86 89.88 L1710.36 89.82 L1712.87 89.75 L1715.38 89.68 L1717.89 89.62 L1720.40 89.55 L1722.91 89.49 L1725.42 89.43 L1727.93 89.36 L1730.44 89.30 L1732.95 89.24 L1735.46 89.17 L1737.97 89.11 L1740.48 89.05 L1742.99 88.99 L1745.49 88.92 L1748.00 88.86 L1750.51 88.80 L1753.02 88.74 L1755.53 88.68 L1758.04 88.62 L1760.55 88.56 L1763.06 88.50 L1765.57 88.44 L1768.08 88.38 L1770.59 88.32 L1773.10 88.26 L1775.61 88.21 L1778.12 88.15 L1780.63 88.09 L1783.13 88.03 L1785.64 87.97 L1788.15 87.91 L1790.66 87.86 L1793.17 87.80 L1795.68 87.74 L1798.19 87.69 L1800.70 87.63 L1803.21 87.57 L1805.72 87.52 L1808.23 87.46 L1810.74 87.40 L1813.25 87.35 L1815.76 87.29 L1818.26 87.23 L1820.77 87.18 L1823.28 87.12 L1825.79 87.07 L1828.30 87.01 L1830.81 86.96 L1833.32 86.90 L1835.83 86.85 L1838.34 86.79 L1840.85 86.73 L1843.36 86.68 L1845.87 86.62 L1848.38 86.57 L1850.89 86.51 L1853.40 86.46 L1855.90 86.40 L1858.41 86.35 L1860.92 86.29 L1863.43 86.24 L1865.94 86.18 L1868.45 86.13 L1870.96 86.08 L1873.47 86.02 L1875.98 85.97 L1878.49 85.91 L1881.00 85.86 L1883.51 85.80 L1886.02 85.74 L1888.53 85.69 L1891.03 85.63 L1893.54 85.58 L1896.05 85.52 L1898.56 85.47 L1901.07 85.41 L1903.58 85.36 L1906.09 85.30 L1908.60 85.25" stroke="#000000" stroke-dasharray="20.7 20.5"/>
<path d="M235.10 726.79 L235.88 725.28 L236.66 723.76 L237.44 722.25 L238.21 720.75 L238.99 719.24 L239.77 717.74 L240.55 716.24" stroke="#ff0000" stroke-dasharray="20.73 20.52"/>
<path d="M240.30 716.72 L242.81 711.91 L245.32 707.13 L247.83 702.38 L250.33 697.66 L252.84 692.96 L255.35 688.30 L257.86 683.66 L260.37 679.06 L262.88 674.48 L265.39 669.93 L267.90 665.41 L270.40 660.92 L272.91 656.46 L275.42 652.03 L277.93 647.63 L280.44 643.25 L282.95 638.91 L285.46 634.59 L287.97 630.30 L290.47 626.05 L292.98 621.82 L295.49 617.61 L298.00 613.44 L300.51 609.30 L303.02 605.18 L305.53 601.10 L308.04 597.04 L310.54 593.01 L313.05 589.01 L315.56 585.04 L318.07 581.09 L320.58 577.18 L323.09 573.29 L325.60 569.43 L328.11 565.60 L330.61 561.79 L333.12 558.02 L335.63 554.27 L338.14 550.56 L340.65 546.87 L343.16 543.20 L345.67 539.57 L348.18 535.96 L350.68 532.38 L353.19 528.83 L355.70 525.31 L358.21 521.82 L360.72 518.35 L363.23 514.91 L365.74 511.50 L368.25 508.12 L370.75 504.76 L373.26 501.43 L375.77 498.13 L378.28 494.86 L380.79 491.61 L383.30 488.39 L385.81 485.20 L388.32 482.04 L390.82 478.90 L393.33 475.79 L395.84 472.70 L398.35 469.64 L400.86 466.61 L403.37 463.60 L405.88 460.62 L408.39 457.66 L410.89 454.72 L413.40 451.82 L415.91 448.93 L418.42 446.07 L420.93 443.24 L423.44 440.42 L425.95 437.64 L428.46 434.87 L430.96 432.13 L433.47 429.41 L435.98 426.72 L438.49 424.04 L441.00 421.39 L443.51 418.76 L446.02 416.16 L448.53 413.57 L451.03 411.01 L453.54 408.47 L456.05 405.95 L458.56 403.45 L461.07 400.97 L463.58 398.52 L466.09 396.08 L468.59 393.66 L471.10 391.26 L473.61 388.89 L476.12 386.53 L478.63 384.19 L481.14 381.87 L483.65 379.57 L486.16 377.29 L488.66 375.03 L491.17 372.78 L493.68 370.55 L496.19 368.35 L498.70 366.15 L501.21 363.98 L503.72 361.83 L506.23 359.69 L508.73 357.56 L511.24 355.46 L513.75 353.37 L516.26 351.30 L518.77 349.24 L521.28 347.20 L523.79 345.17 L526.30 343.17 L528.80 341.17 L531.31 339.19 L533.82 337.23 L536.33 335.28 L538.84 333.34 L541.35 331.42 L543.86 329.51 L546.37 327.62 L548.87 325.74 L551.38 323.87 L553.89 322.02 L556.40 320.18 L558.91 318.35 L561.42 316.54 L563.93 314.74 L566.44 312.95 L568.94 311.18 L571.45 309.42 L573.96 307.67 L576.47 305.93 L578.98 304.21 L581.49 302.49 L584.00 300.80 L586.51 299.11 L589.01 297.43 L591.52 295.77 L594.03 294.12 L596.54 292.49 L599.05 290.86 L601.56 289.25 L604.07 287.65 L606.58 286.06 L609.08 284.48 L611.59 282.91 L614.10 281.36 L616.61 279.82 L619.12 278.29 L621.63 276.77 L624.14 275.26 L626.65 273.77 L629.15 272.28 L631.66 270.81 L634.17 269.35 L636.68 267.90 L639.19 266.46 L641.70 265.03 L644.21 263.61 L646.72 262.21 L649.22 260.81 L651.73 259.43 L654.24 258.05 L656.75 256.69 L659.26 255.34 L661.77 254.00 L664.28 252.67 L666.78 251.35 L669.29 250.04 L671.80 248.74 L674.31 247.45 L676.82 246.17 L679.33 244.90 L681.84 243.64 L684.35 242.39 L686.85 241.15 L689.36 239.93 L691.87 238.71 L694.38 237.50 L696.89 236.30 L699.40 235.11 L701.91 233.93 L704.42 232.76 L706.92 231.60 L709.43 230.45 L711.94 229.31 L714.45 228.17 L716.96 227.05 L719.47 225.94 L721.98 224.83 L724.49 223.74 L726.99 222.65 L729.50 221.57 L732.01 220.50 L734.52 219.44 L737.03 218.39 L739.54 217.35 L742.05 216.32 L744.56 215.29 L747.06 214.28 L749.57 213.27 L752.08 212.27 L754.59 211.28 L757.10 210.29 L759.61 209.32 L762.12 208.35 L764.63 207.40 L767.13 206.45 L769.64 205.50 L772.15 204.57 L774.66 203.64 L777.17 202.72 L779.68 201.81 L782.19 200.91 L784.70 200.02 L787.20 199.13 L789.71 198.25 L792.22 197.37 L794.73 196.51 L797.24 195.65 L799.75 194.80 L802.26 193.96 L804.77 193.12 L807.27 192.29 L809.78 191.47 L812.29 190.65 L814.80 189.85 L817.31 189.04 L819.82 188.25 L822.33 187.46 L824.84 186.68 L827.34 185.91 L829.85 185.14 L832.36 184.38 L834.87 183.62 L837.38 182.87 L839.89 182.13 L842.40 181.39 L844.91 180.66 L847.41 179.94 L849.92 179.22 L852.43 178.51 L854.94 177.80 L857.45 177.10 L859.96 176.41 L862.47 175.72 L864.98 175.04 L867.48 174.36 L869.99 173.69 L872.50 173.03 L875.01 172.36 L877.52 171.71 L880.03 171.06 L882.54 170.42 L885.04 169.78 L887.55 169.14 L890.06 168.51 L892.57 167.89 L895.08 167.27 L897.59 166.66 L900.10 166.05 L902.61 165.44 L905.11 164.84 L907.62 164.25 L910.13 163.66 L912.64 163.07 L915.15 162.49 L917.66 161.91 L920.17 161.34 L922.68 160.77 L925.18 160.21 L927.69 159.65 L930.20 159.09 L932.71 158.54 L935.22 157.99 L937.73 157.45 L940.24 156.91 L942.75 156.37 L945.25 155.84 L947.76 155.31 L950.27 154.79 L952.78 154.27 L955.29 153.75 L957.80 153.24 L960.31 152.73 L962.82 152.22 L965.32 151.71 L967.83 151.21 L970.34 150.71 L972.85 150.22 L975.36 149.73 L977.87 149.24 L980.38 148.75 L982.89 148.27 L985.39 147.79 L987.90 147.32 L990.41 146.84 L992.92 146.38 L995.43 145.91 L997.94 145.44 L1000.45 144.98 L1002.96 144.53 L1005.46 144.07 L1007.97 143.62 L1010.48 143.17 L1012.99 142.73 L1015.50 142.28 L1018.01 141.84 L1020.52 141.41 L1023.03 140.97 L1025.53 140.54 L1028.04 140.11 L1030.55 139.69 L1033.06 139.27 L1035.57 138.85 L1038.08 138.43 L1040.59 138.02 L1043.10 137.61 L1045.60 137.20 L1048.11 136.79 L1050.62 136.39 L1053.13 135.99 L1055.64 135.59 L1058.15 135.20 L1060.66 134.81 L1063.17 134.42 L1065.67 134.03 L1068.18 133.65 L1070.69 133.27 L1073.20 132.89" stroke="#ff0000" stroke-dasharray="20.73 20.52"/>
<path d="M1073.00 132.92 L1075.51 132.55 L1078.02 132.17 L1080.53 131.80 L1083.04 131.44 L1085.55 131.07 L1088.06 130.71 L1090.57 130.35 L1093.07 129.99 L1095.58 129.64 L1098.09 129.28 L1100.60 128.93 L1103.11 128.59 L1105.62 128.24 L1108.13 127.90 L1110.64 127.56 L1113.15 127.22 L1115.66 126.89 L1118.17 126.55 L1120.68 126.22 L1123.19 125.90 L1125.70 125.57 L1128.20 125.25 L1130.71 124.93 L1133.22 124.61 L1135.73 124.29 L1138.24 123.98 L1140.75 123.67 L1143.26 123.36 L1145.77 123.06 L1148.28 122.75 L1150.79 122.45 L1153.30 122.15 L1155.81 121.85 L1158.32 121.56 L1160.83 121.26 L1163.34 120.97 L1165.84 120.68 L1168.35 120.40 L1170.86 120.11 L1173.37 119.83 L1175.88 119.55 L1178.39 119.27 L1180.90 119.00 L1183.41 118.73 L1185.92 118.45 L1188.43 118.18 L1190.94 117.92 L1193.45 117.65 L1195.96 117.39 L1198.47 117.13 L1200.97 116.87 L1203.48 116.61 L1205.99 116.36 L1208.50 116.10 L1211.01 115.85 L1213.52 115.60 L1216.03 115.36 L1218.54 115.11 L1221.05 114.87 L1223.56 114.63 L1226.07 114.39 L1228.58 114.15 L1231.09 113.91 L1233.60 113.68 L1236.11 113.45 L1238.61 113.22 L1241.12 112.99 L1243.63 112.76 L1246.14 112.53 L1248.65 112.31 L1251.16 112.09 L1253.67 111.87 L1256.18 111.65 L1258.69 111.44 L1261.20 111.22 L1263.71 111.01 L1266.22 110.80 L1268.73 110.59 L1271.24 110.38 L1273.74 110.17 L1276.25 109.97 L1278.76 109.77 L1281.27 109.56 L1283.78 109.36 L1286.29 109.17 L1288.80 108.97 L1291.31 108.77 L1293.82 108.58 L1296.33 108.39 L1298.84 108.20 L1301.35 108.01 L1303.86 107.82 L1306.37 107.64 L1308.88 107.45 L1311.38 107.27 L1313.89 107.09 L1316.40 106.91 L1318.91 106.73 L1321.42 106.55 L1323.93 106.37 L1326.44 106.20 L1328.95 106.03 L1331.46 105.85 L1333.97 105.68 L1336.48 105.51 L1338.99 105.35 L1341.50 105.18 L1344.01 105.01 L1346.51 104.85 L1349.02 104.69 L1351.53 104.53 L1354.04 104.37 L1356.55 104.21 L1359.06 104.05 L1361.57 103.89 L1364.08 103.74 L1366.59 103.58 L1369.10 103.43 L1371.61 103.28 L1374.12 103.12 L1376.63 102.97 L1379.14 102.83 L1381.65 102.68 L1384.15 102.53 L1386.66 102.39 L1389.17 102.24 L1391.68 102.10 L1394.19 101.96 L1396.70 101.81 L1399.21 101.67 L1401.72 101.54 L1404.23 101.40 L1406.74 101.26 L1409.25 101.12 L1411.76 100.99 L1414.27 100.85 L1416.78 100.72 L1419.28 100.59 L1421.79 100.45 L1424.30 100.32 L1426.81 100.19 L1429.32 100.06 L1431.83 99.94 L1434.34 99.81 L1436.85 99.68 L1439.36 99.55 L1441.87 99.43 L1444.38 99.30 L1446.89 99.18 L1449.40 99.06 L1451.91 98.94 L1454.42 98.81 L1456.92 98.69 L1459.43 98.57 L1461.94 98.45 L1464.45 98.34 L1466.96 98.22 L1469.47 98.10 L1471.98 97.98 L1474.49 97.87 L1477.00 97.75 L1479.51 97.64 L1482.02 97.52 L1484.53 97.41 L1487.04 97.30 L1489.55 97.19 L1492.05 97.08 L1494.56 96.97 L1497.07 96.86 L1499.58 96.75 L1502.09 96.64 L1504.60 96.53 L1507.11 96.43 L1509.62 96.32 L1512.13 96.21 L1514.64 96.11 L1517.15 96.01 L1519.66 95.90 L1522.17 95.80 L1524.68 95.70 L1527.18 95.60 L1529.69 95.50 L1532.20 95.40 L1534.71 95.30 L1537.22 95.20 L1539.73 95.10 L1542.24 95.00 L1544.75 94.91 L1547.26 94.81 L1549.77 94.72 L1552.28 94.62 L1554.79 94.53 L1557.30 94.43 L1559.81 94.34 L1562.32 94.25 L1564.82 94.16 L1567.33 94.07 L1569.84 93.98 L1572.35 93.89 L1574.86 93.80 L1577.37 93.71 L1579.88 93.63 L1582.39 93.54 L1584.90 93.45 L1587.41 93.37 L1589.92 93.28 L1592.43 93.20 L1594.94 93.12 L1597.45 93.03 L1599.95 92.95 L1602.46 92.87 L1604.97 92.79 L1607.48 92.71 L1609.99 92.63 L1612.50 92.55 L1615.01 92.47 L1617.52 92.39 L1620.03 92.32 L1622.54 92.24 L1625.05 92.16 L1627.56 92.09 L1630.07 92.01 L1632.58 91.94 L1635.09 91.87 L1637.59 91.79 L1640.10 91.72 L1642.61 91.65 L1645.12 91.58 L1647.63 91.51 L1650.14 91.44 L1652.65 91.37 L1655.16 91.30 L1657.67 91.24 L1660.18 91.17 L1662.69 91.10 L1665.20 91.04 L1667.71 90.97 L1670.22 90.91 L1672.72 90.84 L1675.23 90.78 L1677.74 90.71 L1680.25 90.65 L1682.76 90.59 L1685.27 90.53 L1687.78 90.47 L1690.29 90.41 L1692.80 90.35 L1695.31 90.29 L1697.82 90.23 L1700.33 90.17 L1702.84 90.12 L1705.35 90.06 L1707.86 90.01 L1710.36 89.95 L1712.87 89.90 L1715.38 89.84 L1717.89 89.79 L1720.40 89.73 L1722.91 89.68 L1725.42 89.63 L1727.93 89.58 L1730.44 89.53 L1732.95 89.48 L1735.46 89.43 L1737.97 89.38 L1740.48 89.33 L1742.99 89.28 L1745.49 89.23 L1748.00 89.19 L1750.51 89.14 L1753.02 89.10 L1755.53 89.05 L1758.04 89.01 L1760.55 88.96 L1763.06 88.92 L1765.57 88.88 L1768.08 88.83 L1770.59 88.79 L1773.10 88.75 L1775.61 88.71 L1778.12 88.67 L1780.63 88.63 L1783.13 88.59 L1785.64 88.55 L1788.15 88.51 L1790.66 88.48 L1793.17 88.44 L1795.68 88.40 L1798.19 88.37 L1800.70 88.33 L1803.21 88.30 L1805.72 88.26 L1808.23 88.23 L1810.74 88.19 L1813.25 88.16 L1815.76 88.13 L1818.26 88.10 L1820.77 88.07 L1823.28 88.03 L1825.79 88.00 L1828.30 87.97 L1830.81 87.95 L1833.32 87.92 L1835.83 87.89 L1838.34 87.86 L1840.85 87.83 L1843.36 87.81 L1845.87 87.78 L1848.38 87.75 L1850.89 87.73 L1853.40 87.71 L1855.90 87.68 L1858.41 87.66 L1860.92 87.63 L1863.43 87.61 L1865.94 87.59 L1868.45 87.57 L1870.96 87.55 L1873.47 87.53 L1875.98 87.50 L1878.49 87.49 L1881.00 87.47 L1883.51 87.45 L1886.02 87.43 L1888.53 87.41 L1891.03 87.39 L1893.54 87.38 L1896.05 87.36 L1898.56 87.34 L1901.07 87.33 L1903.58 87.31 L1906.09 87.30 L1908.60 87.28" stroke="#ff0000" stroke-dasharray="20.7 20.5"/>
</g>
<rect x="1419.1" y="1027.7" width="469.9" height="257.2" fill="#fff" stroke="#000" stroke-width="1.75"/>
<line x1="1627.10" y1="1284.9" x2="1627.10" y2="1301.3" stroke="#000" stroke-width="1.7"/>
<line x1="1439.1" y1="1063.50" x2="1539.0" y2="1063.50" stroke="#0df000" stroke-width="10.6" stroke-dasharray="19.9 21 20.9 20.1 18"/>
<g><text transform="matrix(0.58146 0 0 0.67774 1558.66 1078.77)" font-size="100" font-style="italic" stroke="#fff" stroke-width="1.29" stroke-linejoin="round">y</text><text transform="matrix(0.54463 0 0 0.47072 1589.23 1089.67)" font-size="100" stroke="#fff" stroke-width="1.80" stroke-linejoin="round">n</text><text transform="matrix(1.03409 0 0 0.65778 1640.54 1083.07)" font-size="100" stroke="#fff" stroke-width="2.29" stroke-linejoin="round">=</text><text transform="matrix(0.71620 0 0 0.70226 1715.78 1079.17)" font-size="100" stroke="#fff" stroke-width="1.29" stroke-linejoin="round">0.125</text></g>
<line x1="1439.1" y1="1125.45" x2="1539.0" y2="1125.45" stroke="#00cccc" stroke-width="10.6" stroke-dasharray="19.9 21 20.9 20.1 18"/>
<g><text transform="matrix(0.58146 0 0 0.67774 1558.66 1140.72)" font-size="100" font-style="italic" stroke="#fff" stroke-width="1.29" stroke-linejoin="round">y</text><text transform="matrix(0.54463 0 0 0.47072 1589.23 1151.62)" font-size="100" stroke="#fff" stroke-width="1.80" stroke-linejoin="round">n</text><text transform="matrix(1.03409 0 0 0.65778 1640.54 1145.02)" font-size="100" stroke="#fff" stroke-width="2.29" stroke-linejoin="round">=</text><text transform="matrix(0.71446 0 0 0.70226 1715.78 1141.12)" font-size="100" stroke="#fff" stroke-width="1.29" stroke-linejoin="round">0.25</text></g>
<line x1="1439.1" y1="1187.40" x2="1539.0" y2="1187.40" stroke="#000000" stroke-width="10.6" stroke-dasharray="19.9 21 20.9 20.1 18"/>
<g><text transform="matrix(0.58146 0 0 0.67774 1558.66 1202.67)" font-size="100" font-style="italic" stroke="#fff" stroke-width="1.29" stroke-linejoin="round">y</text><text transform="matrix(0.54463 0 0 0.47072 1589.23 1213.57)" font-size="100" stroke="#fff" stroke-width="1.80" stroke-linejoin="round">n</text><text transform="matrix(1.03409 0 0 0.65778 1640.54 1206.97)" font-size="100" stroke="#fff" stroke-width="2.29" stroke-linejoin="round">=</text><text transform="matrix(0.70444 0 0 0.70226 1715.83 1203.07)" font-size="100" stroke="#fff" stroke-width="1.29" stroke-linejoin="round">0.4</text></g>
<line x1="1439.1" y1="1249.35" x2="1539.0" y2="1249.35" stroke="#ff0000" stroke-width="10.6" stroke-dasharray="19.9 21 20.9 20.1 18"/>
<g><text transform="matrix(0.58146 0 0 0.67774 1558.66 1264.62)" font-size="100" font-style="italic" stroke="#fff" stroke-width="1.29" stroke-linejoin="round">y</text><text transform="matrix(0.54463 0 0 0.47072 1589.23 1275.52)" font-size="100" stroke="#fff" stroke-width="1.80" stroke-linejoin="round">n</text><text transform="matrix(1.03409 0 0 0.65778 1640.54 1268.92)" font-size="100" stroke="#fff" stroke-width="2.29" stroke-linejoin="round">=</text><text transform="matrix(0.71034 0 0 0.70226 1715.80 1265.02)" font-size="100" stroke="#fff" stroke-width="1.29" stroke-linejoin="round">0.5</text></g>
<text transform="matrix(0.70976 0 0 0.71515 213.51 1367.82)" font-size="100" stroke="#fff" stroke-width="1.29" stroke-linejoin="round">0</text>
<text transform="matrix(0.68116 0 0 0.69579 492.20 1366.55)" font-size="100" stroke="#fff" stroke-width="0.71" stroke-linejoin="round">1</text>
<text transform="matrix(0.72774 0 0 0.69807 771.16 1366.72)" font-size="100" stroke="#fff" stroke-width="1.29" stroke-linejoin="round">2</text>
<text transform="matrix(0.72000 0 0 0.71483 1048.54 1367.82)" font-size="100" stroke="#fff" stroke-width="1.29" stroke-linejoin="round">3</text>
<text transform="matrix(0.67182 0 0 0.71938 1328.12 1366.74)" font-size="100" stroke="#fff" stroke-width="1.29" stroke-linejoin="round">4</text>
<text transform="matrix(0.73077 0 0 0.72615 1604.25 1367.82)" font-size="100" stroke="#fff" stroke-width="1.29" stroke-linejoin="round">5</text>
<text transform="matrix(0.69576 0 0 0.71787 1884.02 1367.82)" font-size="100" stroke="#fff" stroke-width="1.29" stroke-linejoin="round">6</text>
<text transform="matrix(0.72439 0 0 0.71061 182.54 1324.52)" font-size="100" stroke="#fff" stroke-width="1.29" stroke-linejoin="round">0</text>
<text transform="matrix(0.71597 0 0 0.70526 100.58 1130.27)" font-size="100" stroke="#fff" stroke-width="1.29" stroke-linejoin="round">0.2</text>
<text transform="matrix(0.70529 0 0 0.70827 100.63 936.37)" font-size="100" stroke="#fff" stroke-width="1.29" stroke-linejoin="round">0.4</text>
<text transform="matrix(0.70407 0 0 0.71128 100.63 742.47)" font-size="100" stroke="#fff" stroke-width="1.29" stroke-linejoin="round">0.6</text>
<text transform="matrix(0.70862 0 0 0.70977 100.61 548.57)" font-size="100" stroke="#fff" stroke-width="1.29" stroke-linejoin="round">0.8</text>
<text transform="matrix(0.67536 0 0 0.69425 182.65 353.35)" font-size="100" stroke="#fff" stroke-width="0.71" stroke-linejoin="round">1</text>
<text transform="matrix(0.71854 0 0 0.69736 100.07 159.58)" font-size="100" stroke="#fff" stroke-width="1.29" stroke-linejoin="round">1.2</text>
<text transform="matrix(0.8650 0 0 0.8200 733.9 1439.6)" font-size="100" x="-1.8 50.4 79.0 157.0 202.4 253.6 291.9 318.2 368.9 420.9 446.7 489.7 527.7 566.6 601.6 635.4 663.5 741.0" y="0" stroke="#fff" stroke-width="0.69" stroke-linejoin="round">dimensionless time</text>
<text transform="matrix(0 -0.8650 0.8160 0 85.3 1180.7)" font-size="100" x="-1.9 50.1 78.4 156.1 201.2 252.2 290.3 316.5 366.9 418.7 444.3 487.1 524.9 563.8 596.2 638.4 688.0 739.3 775.1 818.8 865.0 892.8 931.6 969.6 1016.2 1068.2 1097.5 1147.8" y="0" stroke="#fff" stroke-width="0.69" stroke-linejoin="round">dimensionless contact radius</text>
</svg>
</body></html>
